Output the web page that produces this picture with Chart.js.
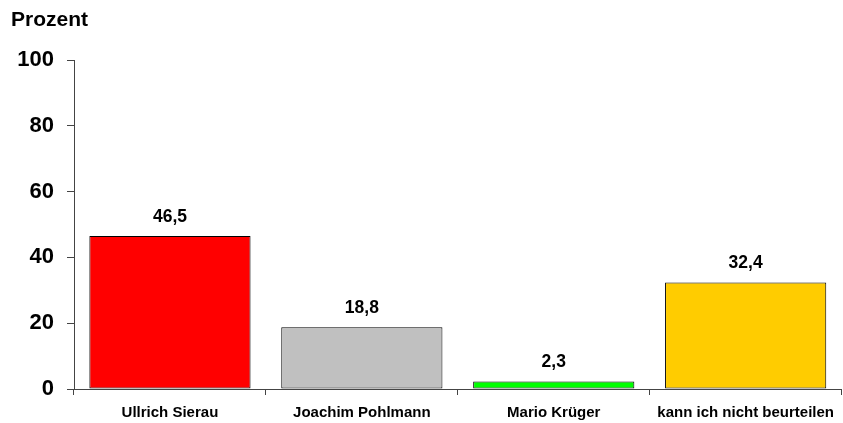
<!DOCTYPE html>
<html>
<head>
<meta charset="utf-8">
<script src="https://cdn.jsdelivr.net/npm/chart.js@4"></script>
<style>
  html, body { margin: 0; padding: 0; background: #fff; }
  #wrap { width: 843px; height: 423px; }
</style>
</head>
<body>
<div id="wrap"><canvas id="myChart"></canvas></div>
<script>
const categories = ['Ullrich Sierau', 'Joachim Pohlmann', 'Mario Krüger', 'kann ich nicht beurteilen'];
const values = [46.5, 18.8, 2.3, 32.4];
const barColors = ['#ff0000', '#c0c0c0', '#00ff00', '#ffcc00'];
const yTicks = [0, 20, 40, 60, 80, 100];
const unitLabel = 'Prozent';

const FONT = "'Liberation Sans', Arial, sans-serif";

// Werte über den Balken + "Prozent" oben links
const labelPlugin = {
    id: 'labelPlugin',
    afterDatasetsDraw(chart) {
        const ctx = chart.ctx;
        const meta = chart.getDatasetMeta(0);
        ctx.save();
        ctx.fillStyle = '#000';
        ctx.font = 'bold 17.5px ' + FONT;
        ctx.textAlign = 'center';
        ctx.textBaseline = 'alphabetic';
        meta.data.forEach(function(bar, i) {
            ctx.fillText(values[i].toFixed(1).replace('.', ','), bar.x, bar.y - 14);
        });
        ctx.font = 'bold 21px ' + FONT;
        ctx.textAlign = 'left';
        ctx.fillText(unitLabel, 11, 26);
        ctx.restore();
    }
};

const ctx = document.getElementById('myChart').getContext('2d');
const myChart = new Chart(ctx, {
    type: 'bar',
    data: {
        labels: categories,
        datasets: [{
            data: values,
            backgroundColor: barColors,
            borderColor: '#000',
            borderWidth: 1,
            borderSkipped: false,
            barPercentage: 0.84,
            categoryPercentage: 1.0
        }]
    },
    options: {
        responsive: true,
        maintainAspectRatio: false,
        animation: false,
        layout: { padding: { top: 60, right: 0, left: 0, bottom: 0 } },
        plugins: {
            legend: { display: false },
            tooltip: { enabled: false }
        },
        scales: {
            y: {
                min: 0,
                max: 100,
                afterBuildTicks: function(scale) {
                    scale.ticks = yTicks.map(v => ({ value: v }));
                },
                afterFit: function(scale) { scale.width = 74; },
                border: { display: true, color: '#444', width: 1 },
                grid: { drawOnChartArea: false, drawTicks: true, tickLength: 7, color: '#444' },
                ticks: {
                    color: '#000',
                    padding: 13,
                    font: { family: FONT, size: 22, weight: 'bold' }
                }
            },
            x: {
                afterFit: function(scale) { scale.height = 34; },
                border: { display: true, color: '#444', width: 1 },
                grid: { offset: true, drawOnChartArea: false, drawTicks: true, tickLength: 6, color: '#444' },
                ticks: {
                    color: '#000',
                    padding: 9,
                    maxRotation: 0,
                    font: { family: FONT, size: 15, weight: 'bold' }
                }
            }
        }
    },
    plugins: [labelPlugin]
});
</script>
</body>
</html>
